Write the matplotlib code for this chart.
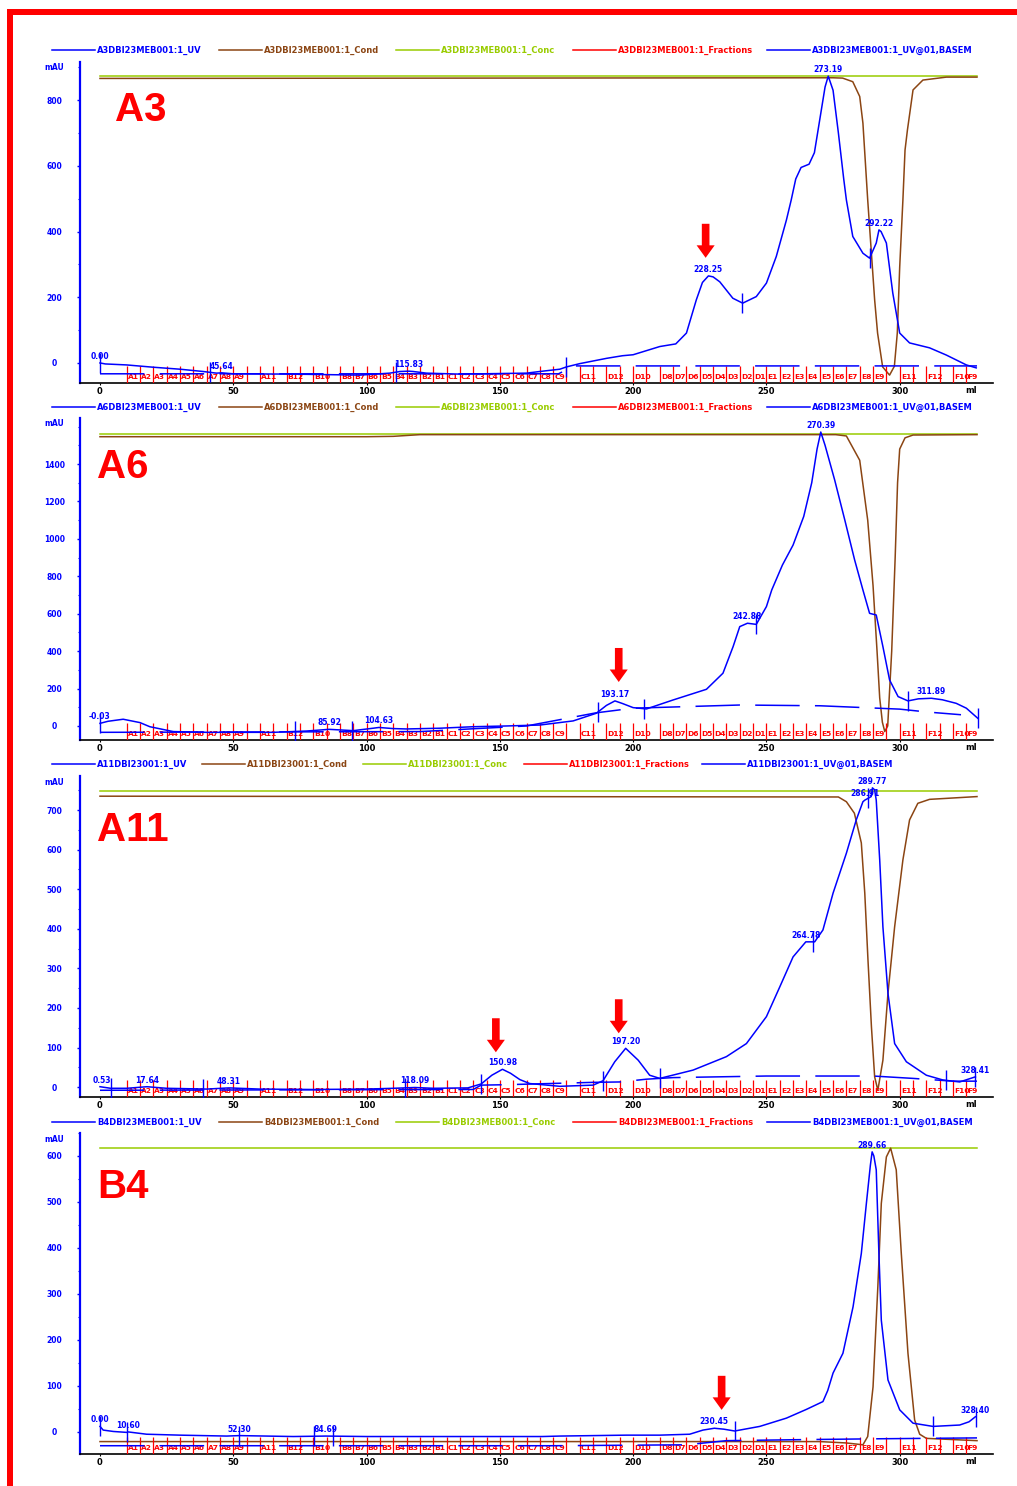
import numpy as np
import matplotlib
matplotlib.use("Agg")
import matplotlib.pyplot as plt
from matplotlib.patches import Rectangle
from matplotlib.lines import Line2D
from matplotlib.ticker import MultipleLocator
from matplotlib.transforms import blended_transform_factory

plt.rcParams["font.family"] = ["DejaVu Sans"]
plt.rcParams["font.weight"] = "bold"
plt.rcParams["lines.scale_dashes"] = False

W, H = 1017, 1486
UV_COL = "#0000ff"
COND_COL = "#8b4513"
CONC_COL = "#99cc00"
FRAC_COL = "#ff0000"

# fraction collector: tube boundaries (ml) and tube names
FRACTION_ML = [10, 15, 20, 25, 30, 35, 40, 45, 50, 55, 60, 65, 70, 75, 80, 85,
               90, 95, 100, 105, 110, 115, 120, 125, 130, 135, 140, 145, 150,
               155, 160, 165, 170, 175, 180, 185, 190, 195, 200, 205, 210, 215,
               220, 225, 230, 235, 240, 245, 250, 255, 260, 265, 270, 275, 280,
               285, 290, 295, 300, 305, 310, 315, 320, 325]
FRACTION_LABELS = ["A1", "A2", "A3", "A4", "A5", "A6", "A7", "A8", "A9", "",
                   "A11", "", "B12", "", "B10", "", "B8", "B7", "B6", "B5",
                   "B4", "B3", "B2", "B1", "C1", "C2", "C3", "C4", "C5", "C6",
                   "C7", "C8", "C9", "", "C11", "", "D12", "", "D10", "", "D8",
                   "D7", "D6", "D5", "D4", "D3", "D2", "D1", "E1", "E2", "E3",
                   "E4", "E5", "E6", "E7", "E8", "E9", "", "E11", "", "F12", "",
                   "F10", "F9"]

# ---- A3 run ----
A3_UV_ML = [0, 2, 10, 20, 30, 38.7, 43.7, 45.64, 50, 72.5, 97.5, 108.7, 112.5,
            115.83, 117.5, 122.5, 135, 160, 165, 172.5, 175, 180, 190, 196, 200,
            210, 216, 220, 223.7, 226, 228.25, 230, 232.5, 237.4, 241.1, 246.2,
            250, 253.7, 257.5, 259.3, 261, 263, 266, 268, 270, 272, 273.19, 275,
            277, 279, 280, 282.4, 286.2, 288.7, 291.2, 292.22, 293, 295, 297.4,
            300, 303.7, 311.2, 317.5, 325, 328.7]
A3_UV = [0, -3, -6, -13, -19, -26, -31, -30, -33, -34, -37, -31, -26, -25, -26,
         -31, -34, -31, -26, -19, -12, -2, 14, 22, 25, 50, 58, 91, 192, 245,
         265, 262, 247, 197, 182, 202, 243, 324, 435, 496, 560, 595, 605, 640,
         740, 840, 873, 830, 700, 560, 496, 385, 334, 319, 365, 405, 400, 365,
         213, 91, 61, 46, 24, -6, -15]
A3_COND_ML = [0, 275, 278.6, 282.4, 285, 286.2, 288, 290.6, 291.7, 293.6, 296.2,
              298, 299.1, 300, 301.2, 302, 302.9, 305, 308.7, 317.5, 329]
A3_COND = [866, 868, 867, 856, 811, 730, 496, 192, 91, -12, -37, -10, 91, 292,
           496, 648, 709, 831, 861, 870, 870]
A3_CONC_ML = [0, 329]
A3_CONC = [873, 873]
A3_BASE_ML = [0, 172, 178, 329]
A3_BASE = [-33, -33, -9, -9]
A3_PEAKS = [0.00, 45.64, 115.83, 228.25, 273.19, 292.22]
A3_MARKS = [0, 41.2, 111, 175, 240.9, 288.7]
A3_ARROW_ML = [227.2]
A3_ARROW_TIP = [320]

# ---- A6 run ----
A6_UV_ML = [0, 3, 8.7, 15, 18.7, 27.5, 40, 65, 77.5, 85.92, 95, 102.5, 104.63,
            110, 115, 127.5, 140, 152.5, 165, 177.5, 186.2, 190, 193.17, 196,
            200, 205, 215, 227.5, 233.7, 237.5, 240, 242.88, 246.2, 250, 252,
            256, 260, 264, 267, 269, 270.39, 272, 275.6, 279.4, 283.1, 286.2,
            288.7, 291.2, 293.7, 296.2, 299.4, 303.1, 307, 311.89, 316, 321.2,
            325, 329.3]
A6_UV = [14, 25, 36, 18, -4, -30, -34, -34, -27, -18, -25, -12, -8, -14, -16,
         -12, -4, 0, 5, 27, 68, 110, 134, 120, 98, 91, 139, 196, 282, 424, 531,
         549, 543, 638, 727, 860, 967, 1120, 1300, 1480, 1571, 1500, 1315, 1101,
         887, 727, 602, 593, 424, 246, 157, 134, 145, 148, 140, 121, 95, 41]
A6_COND_ML = [0, 100, 110, 120, 276, 280, 285, 288, 290, 291.5, 292.5, 293.5,
              294.4, 295.5, 297, 298.3, 299.2, 300, 302, 305, 329]
A6_COND = [1546, 1546, 1548, 1557, 1557, 1550, 1420, 1100, 750, 400, 150, 20,
           -30, 0, 400, 900, 1300, 1480, 1540, 1555, 1557]
A6_CONC_ML = [0, 329]
A6_CONC = [1562, 1562]
A6_BASE_ML = [0, 120, 160, 186, 200, 240, 270, 300, 310, 323]
A6_BASE = [-34, -30, 0, 70, 95, 112, 108, 90, 75, 60]
A6_PEAKS = [-0.03, 85.92, 104.63, 193.17, 242.88, 270.39, 311.89]
A6_MARKS = [0, 73, 94.7, 186.9, 204, 246, 303.1, 329.3]
A6_ARROW_ML = [194.6]
A6_ARROW_TIP = [235]

# ---- A11 run ----
A11_UV_ML = [0, 4, 10, 17.64, 25, 40, 48.31, 60, 80, 100, 110, 118.09, 125,
             138, 143, 147, 150.98, 154, 157.5, 161.2, 172.5, 185, 188.7, 193.1,
             197.2, 201.9, 206.2, 210, 222.5, 235, 242.5, 250, 255, 260, 264.78,
             268.1, 271.2, 275, 280, 283.7, 286.2, 286.91, 289.3, 289.77, 290.6,
             291.2, 292.5, 293.7, 295.6, 298.1, 302.5, 310, 316.2, 322.5, 328.41]
A11_UV = [1, -3, -3, 1, -3, -5, -2, -5, -6, -5, -3, -1, -3, -2, 8, 30, 45, 35,
          19, 9, 2, 5, 16, 64, 98, 68, 30, 22, 43, 77, 110, 178, 253, 329, 367,
          367, 397, 490, 591, 675, 721, 725, 734, 756, 751, 725, 574, 405, 237,
          110, 64, 30, 18, 13, 26]
A11_COND_ML = [0, 277, 280, 283, 285.6, 286.9, 288.1, 289.4, 290.6, 291.8,
               293.7, 295.6, 298.1, 301.2, 303.7, 306.8, 311.2, 329]
A11_COND = [735, 733, 721, 692, 617, 490, 321, 152, 26, -8, 68, 237, 405, 574,
            675, 717, 727, 734]
A11_CONC_ML = [0, 329]
A11_CONC = [749, 749]
A11_BASE_ML = [0, 140, 143, 152, 185, 195, 205, 215, 250, 290, 305, 320, 329]
A11_BASE = [-8, -6, 5, 6, 12, 13, 20, 24, 28, 28, 22, 15, 15]
A11_PEAKS = [0.53, 17.64, 48.31, 118.09, 150.98, 197.20, 264.78, 286.91,
             289.77, 328.41]
A11_MARKS = [4, 38.5, 114.4, 143, 188.7, 210, 267.4, 288.1, 317.5, 328.4]
A11_ARROW_ML = [148.5, 194.6]
A11_ARROW_TIP = [88, 136]

# ---- B4 run ----
B4_UV_ML = [0, 1.2, 5, 10, 10.6, 17.5, 30, 47.5, 52.3, 72.5, 84.69, 100, 166,
            172.5, 197.5, 210, 221.2, 226.2, 230.45, 234, 238.1, 247.5, 257.5,
            265, 271.2, 273, 275, 278.7, 282.5, 285.6, 287.5, 289, 289.66, 290.3,
            291.2, 292.2, 293.1, 295.6, 300, 305, 312.5, 322.5, 326, 328.4]
B4_UV = [12, 4, 1, -1, 0, -5, -7, -9, -8, -10, -9, -10, -10, -9, -7, -7, -5, 4,
         8, 6, 2, 12, 30, 49, 66, 90, 128, 171, 272, 388, 497, 580, 609, 600,
         570, 388, 243, 113, 48, 19, 12, 15, 22, 33]
B4_COND_ML = [0, 270, 280, 286.2, 288, 290, 291.8, 293.1, 295, 296.6, 298.7,
              300.6, 303.1, 305.6, 307.5, 310, 329]
B4_COND = [-21, -21, -24, -28, -10, 98, 316, 497, 598, 617, 570, 388, 171, 26,
           -5, -14, -19]
B4_CONC_ML = [0, 329]
B4_CONC = [617, 617]
B4_BASE_ML = [0, 170, 220, 235, 260, 290, 329]
B4_BASE = [-30, -30, -28, -19, -17, -15, -13]
B4_PEAKS = [0.00, 10.60, 52.30, 84.69, 230.45, 289.66, 328.40]
B4_MARKS = [0, 10, 52.3, 80.4, 87.5, 238.1, 312.5, 328.7]
B4_ARROW_ML = [233.2]
B4_ARROW_TIP = [48]

LEGEND_SUFFIX = ["_UV", "_Cond", "_Conc", "_Fractions", "_UV@01,BASEM"]
LEGEND_COLORS = [UV_COL, COND_COL, CONC_COL, FRAC_COL, UV_COL]

PANELS = [
    dict(tag="A3", run="A3DBI23MEB001:1", top=62, bottom=383, ylim=(-61, 916),
         ystep=200, ymax_tick=800, legend_y=50, legend_x=[52, 219, 396, 573, 767],
         tag_xy=(115, 110),
         uv=(A3_UV_ML, A3_UV), cond=(A3_COND_ML, A3_COND), conc=(A3_CONC_ML, A3_CONC),
         base=(A3_BASE_ML, A3_BASE), peaks=A3_PEAKS, marks=A3_MARKS,
         arrows=(A3_ARROW_ML, A3_ARROW_TIP)),
    dict(tag="A6", run="A6DBI23MEB001:1", top=418, bottom=740, ylim=(-75, 1646),
         ystep=200, ymax_tick=1400, legend_y=407, legend_x=[52, 219, 396, 573, 767],
         tag_xy=(97, 467),
         uv=(A6_UV_ML, A6_UV), cond=(A6_COND_ML, A6_COND), conc=(A6_CONC_ML, A6_CONC),
         base=(A6_BASE_ML, A6_BASE), peaks=A6_PEAKS, marks=A6_MARKS,
         arrows=(A6_ARROW_ML, A6_ARROW_TIP)),
    dict(tag="A11", run="A11DBI23001:1", top=776, bottom=1097, ylim=(-25, 786),
         ystep=100, ymax_tick=700, legend_y=764, legend_x=[52, 202, 363, 524, 702],
         tag_xy=(97, 830),
         uv=(A11_UV_ML, A11_UV), cond=(A11_COND_ML, A11_COND), conc=(A11_CONC_ML, A11_CONC),
         base=(A11_BASE_ML, A11_BASE), peaks=A11_PEAKS, marks=A11_MARKS,
         arrows=(A11_ARROW_ML, A11_ARROW_TIP)),
    dict(tag="B4", run="B4DBI23MEB001:1", top=1133, bottom=1454, ylim=(-48, 650),
         ystep=100, ymax_tick=600, legend_y=1122, legend_x=[52, 219, 396, 573, 767],
         tag_xy=(97, 1187),
         uv=(B4_UV_ML, B4_UV), cond=(B4_COND_ML, B4_COND), conc=(B4_CONC_ML, B4_CONC),
         base=(B4_BASE_ML, B4_BASE), peaks=B4_PEAKS, marks=B4_MARKS,
         arrows=(B4_ARROW_ML, B4_ARROW_TIP)),
]

AX_LEFT, AX_RIGHT = 80, 993


def fx(x):
    return x / W


def fy(y):
    return 1 - y / H


fig = plt.figure(figsize=(W / 100, H / 100), dpi=100)

# red frame on top and left
fig.add_artist(Rectangle((fx(7), fy(15)), fx(W - 7), 6 / H, transform=fig.transFigure,
                         color=FRAC_COL, lw=0))
fig.add_artist(Rectangle((fx(7), 0), 6 / W, fy(9), transform=fig.transFigure,
                         color=FRAC_COL, lw=0))

for p in PANELS:
    ax = fig.add_axes([fx(AX_LEFT), fy(p["bottom"]), (AX_RIGHT - AX_LEFT) / W,
                       (p["bottom"] - p["top"]) / H])
    ax.set_xlim(-7.5, 335)
    ax.set_ylim(*p["ylim"])
    for s in ("top", "right"):
        ax.spines[s].set_visible(False)
    ax.spines["left"].set_color(UV_COL)
    ax.spines["left"].set_linewidth(1.6)
    ax.spines["bottom"].set_color("black")
    ax.spines["bottom"].set_linewidth(1.2)

    ax.set_xticks([0, 50, 100, 150, 200, 250, 300])
    ax.yaxis.set_minor_locator(MultipleLocator(p["ystep"] / 2))
    ax.set_yticks(np.arange(0, p["ymax_tick"] + 1, p["ystep"]))
    ax.tick_params(axis="y", which="major", colors=UV_COL, length=2.5, width=1,
                   labelsize=5.5, pad=16)
    ax.tick_params(axis="y", which="minor", colors=UV_COL, length=1.5, width=0.8)
    ax.tick_params(axis="x", colors="black", length=1.5, width=0.8,
                   labelsize=6, pad=1.5)
    for lab in ax.get_yticklabels():
        lab.set_horizontalalignment("center")

    trans = blended_transform_factory(ax.transData, ax.transAxes)

    # eluent traces
    ax.plot(*p["conc"], color=CONC_COL, lw=1.1, zorder=2)
    ax.plot(*p["cond"], color=COND_COL, lw=1.1, zorder=3)

    # fraction marks along the bottom
    ax.vlines(FRACTION_ML, 0, 0.053, transform=trans, color=FRAC_COL, lw=0.9, zorder=4)
    for x, lab in zip(FRACTION_ML, FRACTION_LABELS):
        ax.text(x + 0.4, 0.018, lab, transform=trans, color=FRAC_COL, fontsize=5.4,
                ha="left", va="center", zorder=4)

    # UV absorbance and its integration baseline
    uv_ml, uv = p["uv"]
    ax.plot(uv_ml, uv, color=UV_COL, lw=1.1, zorder=6)
    base_line, = ax.plot(*p["base"], color=UV_COL, lw=1.1, zorder=5)
    base_line.set_dashes((32, 11))

    mark_y = np.interp(p["marks"], uv_ml, uv)
    ax.plot(p["marks"], mark_y, ls="none", marker="|", ms=14, mew=1,
            color=UV_COL, zorder=6)

    peak_y = np.interp(p["peaks"], uv_ml, uv)
    for x, y in zip(p["peaks"], peak_y):
        ax.annotate(f"{x:.2f}", (x, y), xytext=(0, 1.5), textcoords="offset points",
                    ha="center", va="bottom", color=UV_COL, fontsize=5.5, zorder=7)

    for x, tip in zip(*p["arrows"]):
        ax.annotate("", xy=(x, tip), xytext=(0, 24.5), textcoords="offset points",
                    arrowprops=dict(arrowstyle="simple,head_length=0.9,head_width=1.3,tail_width=0.55",
                                    mutation_scale=10, color=FRAC_COL, lw=0,
                                    shrinkA=0, shrinkB=0), zorder=8)

    # axis captions
    fig.text(fx(54), fy(p["top"] + 6), "mAU", color=UV_COL, fontsize=5.5,
             ha="center", va="center")
    fig.text(fx(971), fy(p["bottom"] + 7.5), "ml", color="black", fontsize=6,
             ha="center", va="center")

    # run tag
    fig.text(fx(p["tag_xy"][0]), fy(p["tag_xy"][1]), p["tag"], color=FRAC_COL,
             fontsize=29, family="Liberation Sans", ha="left", va="center")

    # legend row
    for x0, suffix, col in zip(p["legend_x"], LEGEND_SUFFIX, LEGEND_COLORS):
        ly = fy(p["legend_y"])
        fig.add_artist(Line2D([fx(x0), fx(x0 + 43)], [ly, ly], color=col, lw=1.1,
                              transform=fig.transFigure))
        fig.text(fx(x0 + 45), ly, p["run"] + suffix, color=col, fontsize=6,
                 ha="left", va="center")

fig.savefig("out.png", dpi=100)
